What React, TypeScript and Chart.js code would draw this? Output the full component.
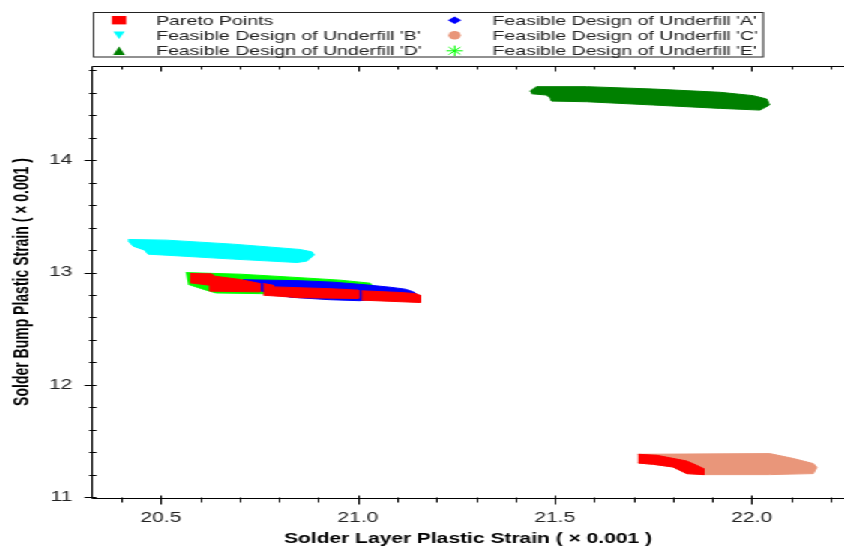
import React, { useEffect, useRef } from 'react';
import { Chart, registerables } from 'chart.js';
Chart.register(...registerables);

// ---- data ----
const seriesNames = [
  'Pareto Points',
  "Feasible Design of Underfill 'A'",
  "Feasible Design of Underfill 'B'",
  "Feasible Design of Underfill 'C'",
  "Feasible Design of Underfill 'D'",
  "Feasible Design of Underfill 'E'",
];
const seriesColors = ['#ff0000', '#0000ff', '#00ffff', '#e9967a', '#008000', '#00ff00'];
const seriesMarkers = ['rect', 'diamond', 'triangleDown', 'circle', 'triangle', 'star'];

const xTickValues = [20.5, 21.0, 21.5, 22.0];
const yTickValues = [11, 12, 13, 14];
const xRange = [20.3248, 22.2344];
const yRange = [10.994, 14.837];

const xTitle = 'Solder Layer Plastic Strain ( × 0.001 )';
const yTitle = 'Solder Bump Plastic Strain ( × 0.001 )';

// outlines of the dense point clouds (x, y)
const paretoStep1 = [[20.574, 12.991], [20.629, 12.988], [20.637, 12.967], [20.701, 12.938], [20.751, 12.902], [20.751, 12.828], [20.624, 12.834], [20.624, 12.887], [20.574, 12.908]];
const paretoStep2 = [[20.760, 12.902], [20.785, 12.887], [20.785, 12.872], [20.929, 12.856], [21.001, 12.843], [21.001, 12.769], [20.853, 12.776], [20.760, 12.798]];
const paretoStep3 = [[21.010, 12.837], [21.107, 12.822], [21.145, 12.813], [21.158, 12.798], [21.158, 12.733], [21.010, 12.754]];
const paretoC = [[21.712, 11.383], [21.759, 11.374], [21.835, 11.323], [21.860, 11.285], [21.878, 11.255], [21.878, 11.202], [21.835, 11.211], [21.800, 11.270], [21.749, 11.294], [21.712, 11.305]];
const underfillA = [[20.708, 12.936], [20.853, 12.927], [20.937, 12.914], [21.021, 12.890], [21.082, 12.869], [21.120, 12.852], [21.140, 12.829], [21.150, 12.807], [21.137, 12.789], [21.056, 12.772], [21.005, 12.749], [20.929, 12.758], [20.828, 12.780], [20.756, 12.834], [20.708, 12.878]];
const underfillB = [[20.417, 13.294], [20.514, 13.288], [20.684, 13.252], [20.853, 13.205], [20.883, 13.184], [20.889, 13.157], [20.870, 13.101], [20.845, 13.089], [20.684, 13.119], [20.514, 13.154], [20.468, 13.163], [20.459, 13.199], [20.430, 13.234], [20.417, 13.282]];
const underfillC = [[21.712, 11.383], [22.046, 11.389], [22.106, 11.345], [22.156, 11.300], [22.165, 11.267], [22.156, 11.211], [22.046, 11.202], [21.876, 11.202], [21.835, 11.211], [21.800, 11.270], [21.749, 11.294], [21.712, 11.305]];
const underfillD = [[21.437, 14.614], [21.454, 14.653], [21.581, 14.653], [21.750, 14.632], [21.920, 14.603], [22.004, 14.573], [22.038, 14.543], [22.045, 14.490], [22.021, 14.445], [21.920, 14.460], [21.750, 14.490], [21.581, 14.519], [21.492, 14.525], [21.488, 14.555], [21.479, 14.579], [21.441, 14.590]];
const underfillE = [[20.563, 12.999], [20.701, 12.985], [20.853, 12.954], [20.955, 12.932], [21.031, 12.905], [21.043, 12.861], [21.005, 12.798], [20.751, 12.812], [20.640, 12.818], [20.615, 12.843], [20.569, 12.895]];

const clouds: { s: number; pts: number[][] }[] = [
  { s: 0, pts: paretoStep1 },
  { s: 0, pts: paretoStep2 },
  { s: 0, pts: paretoStep3 },
  { s: 0, pts: paretoC },
  { s: 1, pts: underfillA },
  { s: 5, pts: underfillE },
  { s: 2, pts: underfillB },
  { s: 3, pts: underfillC },
  { s: 4, pts: underfillD },
];

const FONT = '"Liberation Sans", Arial, Helvetica, sans-serif';
const W = 563;
const H = 549;

function drawMarker(ctx: CanvasRenderingContext2D, kind: string, cx: number, cy: number, color: string) {
  ctx.fillStyle = color;
  ctx.strokeStyle = color;
  ctx.beginPath();
  if (kind === 'rect') {
    ctx.fillRect(cx - 4.8, cy - 4.2, 9.6, 8.4);
    return;
  } else if (kind === 'diamond') {
    ctx.moveTo(cx, cy - 3.7);
    ctx.lineTo(cx + 4.5, cy);
    ctx.lineTo(cx, cy + 3.7);
    ctx.lineTo(cx - 4.5, cy);
    ctx.closePath();
    ctx.fill();
  } else if (kind === 'triangleDown') {
    ctx.moveTo(cx - 3.8, cy - 3.8);
    ctx.lineTo(cx + 3.8, cy - 3.8);
    ctx.lineTo(cx, cy + 3.8);
    ctx.closePath();
    ctx.fill();
  } else if (kind === 'triangle') {
    ctx.moveTo(cx, cy - 4.2);
    ctx.lineTo(cx + 4, cy + 4.2);
    ctx.lineTo(cx - 4, cy + 4.2);
    ctx.closePath();
    ctx.fill();
  } else if (kind === 'circle') {
    ctx.ellipse(cx, cy, 4.1, 4.3, 0, 0, Math.PI * 2);
    ctx.fill();
  } else if (kind === 'star') {
    ctx.lineWidth = 1;
    ctx.moveTo(cx - 5.5, cy); ctx.lineTo(cx + 5.5, cy);
    ctx.moveTo(cx, cy - 5.2); ctx.lineTo(cx, cy + 5.2);
    ctx.moveTo(cx - 3.9, cy - 3.7); ctx.lineTo(cx + 3.9, cy + 3.7);
    ctx.moveTo(cx - 3.9, cy + 3.7); ctx.lineTo(cx + 3.9, cy - 3.7);
    ctx.stroke();
  }
}

const framePlugin = {
  id: 'frameAndLegend',
  afterDraw(chart: any) {
    const { ctx, chartArea } = chart;
    const { left, right, top, bottom } = chartArea;
    const xs = chart.scales.x;
    const ys = chart.scales.y;
    ctx.save();
    ctx.strokeStyle = '#000';
    ctx.lineWidth = 1;
    ctx.beginPath();
    const l = Math.round(left) + 0.5;
    const b = Math.round(bottom) + 0.5;
    const t = Math.round(top) + 0.5;
    ctx.moveTo(l, t); ctx.lineTo(l, b);
    ctx.moveTo(l, b); ctx.lineTo(right, b);
    ctx.moveTo(l, t); ctx.lineTo(right, t);
    for (let i = 203; i <= 223; i++) {
      const v = i / 10;
      if (v < xs.min || v > xs.max) continue;
      const px = Math.round(xs.getPixelForValue(v)) + 0.5;
      const major = i % 5 === 0;
      ctx.moveTo(px, b - (major ? 3 : 1));
      ctx.lineTo(px, b + (major ? 6 : 4));
      ctx.moveTo(px, t);
      ctx.lineTo(px, t + (major ? 5 : 3));
    }
    for (let i = 55; i <= 74; i++) {
      const v = i / 5;
      if (v < ys.min || v > ys.max) continue;
      const py = Math.round(ys.getPixelForValue(v)) + 0.5;
      const major = i % 5 === 0;
      ctx.moveTo(l - (major ? 5 : 2), py);
      ctx.lineTo(l + 3, py);
    }
    ctx.stroke();

    // legend box
    ctx.strokeStyle = '#222';
    ctx.strokeRect(62.5, 12.5, 446.5, 44.5);
    const colMarker = [79.5, 303.3];
    const colText = [104.2, 328.5];
    const rowMarker = [20.2, 35.3, 50.8];
    const rowText = [25, 39.6, 55];
    ctx.font = `13px ${FONT}`;
    ctx.textBaseline = 'alphabetic';
    ctx.textAlign = 'left';
    seriesNames.forEach((name, i) => {
      const c = i % 2;
      const r = Math.floor(i / 2);
      drawMarker(ctx, seriesMarkers[i], colMarker[c], rowMarker[r], seriesColors[i]);
      ctx.fillStyle = '#222';
      ctx.fillText(name, colText[c], rowText[r]);
    });
    ctx.restore();
  },
};

export default function App() {
  const ref = useRef<HTMLCanvasElement | null>(null);
  useEffect(() => {
    if (!ref.current) return;
    const datasets = clouds.map((c) => ({
      type: 'line' as const,
      label: seriesNames[c.s],
      data: c.pts.map(([x, y]) => ({ x, y })),
      borderColor: seriesColors[c.s],
      backgroundColor: seriesColors[c.s],
      borderWidth: 1,
      pointRadius: 0,
      fill: 'shape',
      tension: 0,
      order: c.s === 0 ? 0 : c.s === 1 ? 1 : c.s === 5 ? 2 : 3,
    }));
    const chart = new Chart(ref.current, {
      type: 'line',
      data: { datasets: datasets as any },
      options: {
        animation: false,
        responsive: false,
        devicePixelRatio: 1,
        events: [],
        layout: { padding: { top: 66, left: 0, right: 0, bottom: 0 } },
        plugins: {
          legend: { display: false },
          tooltip: { enabled: false },
        },
        scales: {
          x: {
            type: 'linear',
            position: 'bottom',
            min: xRange[0],
            max: xRange[1],
            afterBuildTicks: (s: any) => { s.ticks = xTickValues.map((v) => ({ value: v })); },
            afterFit: (s: any) => { s.height = 51; },
            ticks: {
              padding: 12,
              maxRotation: 0,
              autoSkip: false,
              color: '#222',
              font: { family: FONT, size: 14 },
              callback: (v: any) => Number(v).toFixed(1),
            },
            grid: { display: false, drawTicks: false },
            border: { display: false },
            title: {
              display: true,
              text: xTitle,
              color: '#000',
              font: { family: FONT, size: 14, weight: 'bold' },
              padding: { top: 0, bottom: 1 },
            },
          },
          y: {
            type: 'linear',
            position: 'left',
            min: yRange[0],
            max: yRange[1],
            afterBuildTicks: (s: any) => { s.ticks = yTickValues.map((v) => ({ value: v })); },
            afterFit: (s: any) => { s.width = 61.33; },
            ticks: {
              padding: 13,
              autoSkip: false,
              color: '#222',
              font: { family: FONT, size: 14 },
              callback: (v: any) => String(v),
            },
            grid: { display: false, drawTicks: false },
            border: { display: false },
            title: {
              display: true,
              text: yTitle,
              color: '#000',
              font: { family: FONT, size: 14, weight: 'bold' },
              padding: { top: 7, bottom: 0 },
            },
          },
        },
      } as any,
      plugins: [framePlugin],
    });
    return () => chart.destroy();
  }, []);

  return (
    <div
      style={{
        position: 'fixed',
        left: 0,
        top: 0,
        width: W,
        height: H,
        background: '#fff',
        transform: `scaleX(${844 / W})`,
        transformOrigin: '0 0',
      }}
    >
      <canvas ref={ref} width={W} height={H} style={{ display: 'block' }} />
    </div>
  );
}
